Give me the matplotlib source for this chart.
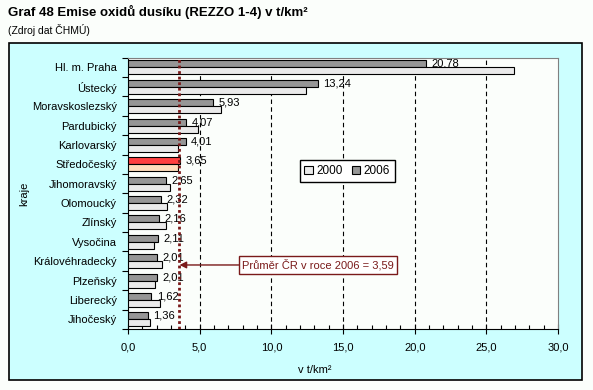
# Graf 48 - Emise oxidu dusiku (REZZO 1-4) podle kraju
import numpy as np
import matplotlib
matplotlib.use('Agg')
import matplotlib.pyplot as plt
from matplotlib.patches import Patch, Rectangle
from matplotlib.ticker import MultipleLocator, FuncFormatter

plt.rcParams['font.family'] = ['Liberation Sans', 'DejaVu Sans']

# data (t/km2)
kraje = ['Hl. m. Praha', 'Ústecký', 'Moravskoslezský', 'Pardubický', 'Karlovarský',
         'Středočeský', 'Jihomoravský', 'Olomoucký', 'Zlínský', 'Vysočina',
         'Královéhradecký', 'Plzeňský', 'Liberecký', 'Jihočeský']
emise_2006 = [20.78, 13.24, 5.93, 4.07, 4.01, 3.65, 2.65, 2.32, 2.16, 2.11, 2.01, 2.01, 1.62, 1.36]
emise_2000 = [26.9, 12.4, 6.5, 4.85, 3.5, 3.5, 2.9, 2.75, 2.65, 1.8, 2.4, 1.85, 2.25, 1.55]
prumer_cr_2006 = 3.59
zvyrazneny_kraj = 'Středočeský'

def cz(v, dec=2):
    return f'{v:.{dec}f}'.replace('.', ',')

tmava_cervena = '#7A1A1A'

fig = plt.figure(figsize=(5.93, 3.90), dpi=100, facecolor='#FBFEFB')

# azurovy ramecek grafu
fig.patches.append(Rectangle((9 / 593, 10 / 390), 572.7 / 593, 337.3 / 390,
                             transform=fig.transFigure, facecolor='#CCFFFF',
                             edgecolor='black', lw=1.2, zorder=-1))

ax = fig.add_axes([0.2159, 0.1564, 0.7252, 0.6956])
ax.set_zorder(1)
ax.set_facecolor('#FBFEFB')

y = np.arange(len(kraje))
barvy_2006 = ['#FF4040' if k == zvyrazneny_kraj else '#969696' for k in kraje]
barvy_2000 = ['#FFDEBD' if k == zvyrazneny_kraj else '#EAEAEA' for k in kraje]

ax.barh(y - 0.18, emise_2006, height=0.36, color=barvy_2006, edgecolor='black', lw=0.8, zorder=3)
ax.barh(y + 0.18, emise_2000, height=0.36, color=barvy_2000, edgecolor='black', lw=0.8, zorder=3)

# popisky hodnot 2006
for i, v in enumerate(emise_2006):
    ax.annotate(cz(v), (v, i - 0.18), xytext=(4, 0), textcoords='offset points',
                ha='left', va='center', fontsize=8, zorder=2)

# svisle carkovane mrizky
for gx in np.arange(5, 30, 5):
    ax.axvline(gx, color='black', lw=0.8, linestyle=(0, (4, 3)), zorder=1)

# prumer CR
ax.axvline(prumer_cr_2006, color=tmava_cervena, lw=2, linestyle=(0, (1, 1)), zorder=5)
ax.annotate(f'Průměr ČR v roce 2006 = {cz(prumer_cr_2006)}',
            xy=(prumer_cr_2006, 0.236), xycoords=('data', 'axes fraction'),
            xytext=(0.265, 0.236), textcoords='axes fraction',
            ha='left', va='center', fontsize=8, color=tmava_cervena, zorder=6,
            bbox=dict(boxstyle='square,pad=0.25', fc='white', ec=tmava_cervena, lw=1),
            arrowprops=dict(arrowstyle='-|>', color=tmava_cervena, lw=1,
                            shrinkA=0, shrinkB=0, mutation_scale=10))

ax.set_xlim(0, 30)
ax.set_ylim(len(kraje) - 0.5, -0.5)

ax.xaxis.set_major_locator(MultipleLocator(5))
ax.xaxis.set_minor_locator(MultipleLocator(1))
ax.xaxis.set_major_formatter(FuncFormatter(lambda v, p: cz(v, 1)))
ax.tick_params(axis='x', which='major', direction='inout', length=7, width=0.8, pad=6, labelsize=8)
ax.tick_params(axis='x', which='minor', direction='in', length=3, width=0.8)

ax.set_yticks(y)
ax.set_yticklabels(kraje)
ax.set_yticks(np.arange(len(kraje) + 1) - 0.5, minor=True)
ax.tick_params(axis='y', which='major', length=0, pad=8, labelsize=8)
ax.tick_params(axis='y', which='minor', direction='out', length=4, width=0.8)

for s in ['top', 'right']:
    ax.spines[s].set_color('#808080')
for s in ['left', 'bottom']:
    ax.spines[s].set_color('black')

leg = ax.legend(handles=[Patch(fc='#EAEAEA', ec='black', lw=0.8, label='2000'),
                         Patch(fc='#969696', ec='black', lw=0.8, label='2006')],
                ncol=2, loc='center', bbox_to_anchor=(0.51, 0.582), fontsize=8.5,
                frameon=True, fancybox=False, edgecolor='black', framealpha=1,
                handlelength=0.7, handleheight=0.7, columnspacing=0.8,
                handletextpad=0.3, borderpad=0.4)
leg.get_frame().set_linewidth(1)
leg.set_zorder(7)

# texty
fig.text(8 / 593, 1 - 11.5 / 390, 'Graf 48 Emise oxidů dusíku (REZZO 1-4) v t/km²',
         fontsize=9.5, fontweight='bold', va='center', ha='left')
fig.text(8 / 593, 1 - 29.5 / 390, '(Zdroj dat ČHMÚ)', fontsize=7.5, va='center', ha='left')
fig.text(24 / 593, 1 - 194 / 390, 'kraje', rotation=90, fontsize=8, va='center', ha='center')
fig.text(315 / 593, 1 - 370 / 390, 'v t/km²', fontsize=8, va='center', ha='center')

fig.savefig('out.png', dpi=100)
